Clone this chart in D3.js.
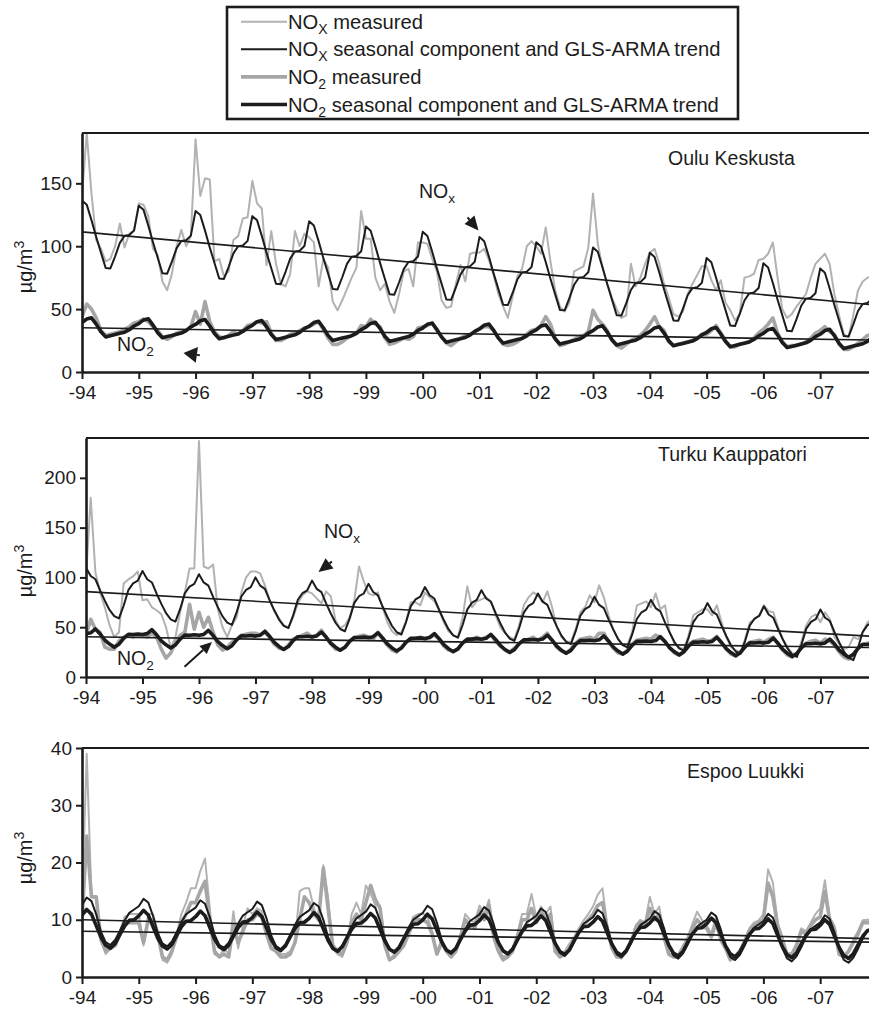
<!DOCTYPE html>
<html><head><meta charset="utf-8">
<script src="https://cdn.jsdelivr.net/npm/d3@7"></script>
<style>
html,body{margin:0;padding:0;background:#fff;}
svg{display:block;font-family:"Liberation Sans",Arial,Helvetica,sans-serif;}
</style></head><body>
<svg id="chart" width="869" height="1010"></svg>
<script>
// ---------------- data ----------------
// Monthly means, January 1994 onwards (one row per year).
const startYear = 1994;
const endYear = 2007.86;
const yearTicks = d3.range(1994, 2008);
const tickLabels = ["-94","-95","-96","-97","-98","-99","-00","-01","-02","-03","-04","-05","-06","-07"];

// Oulu Keskusta
const ouluNOxMeasured = [
  140,190,142,105, 98, 88, 90,100,118, 99,110,112,
  134,133,124, 98, 93, 72, 65, 78,100,113,100,108,
  185,140,154,153, 88, 90, 76, 80,105,108,122,123,
  152,134,130, 85,112, 86, 70, 68, 78,112,100,110,
  107,103, 68, 90, 83, 56, 49, 57, 66, 75, 83,128,
  106,106, 75, 65, 70, 56, 47, 62, 80, 82, 68,103,
  103,102, 90, 80, 57, 51, 52, 70, 85, 72, 94, 95,
   95, 98, 89, 77, 62, 52, 43, 60, 76, 82,100,104,
  100, 94,115, 88, 65, 52, 48, 55, 80, 82, 84, 99,
  142,102, 83, 70, 59, 50, 43, 45, 86, 68, 75, 86,
   95, 98, 86, 70, 59, 46, 44, 48, 62, 70, 77, 84,
   84, 73, 65, 73, 55, 49, 41, 46, 75, 76, 78, 89,
   90, 94,103, 75, 50, 43, 46, 52, 57, 62, 75, 86,
   90, 94, 86, 62, 45, 30, 28, 45, 65, 72, 75, 76];
const ouluNO2Measured = [
  44,54,50,43,33,29,30,31,32,34,36,39,
  40,42,40,36,33,28,26,28,31,32,33,36,
  48,38,56,40,32,28,27,29,32,30,33,37,
  38,40,39,40,31,25,25,27,30,31,33,35,
  36,38,40,34,27,22,22,24,27,29,31,37,
  36,42,38,36,27,22,23,25,27,26,28,35,
  36,37,39,33,28,23,21,24,27,29,30,32,
  34,36,36,33,27,22,21,22,24,27,30,33,
  34,37,44,38,27,21,22,24,26,28,29,32,
  49,42,38,33,25,21,19,22,25,27,29,33,
  38,44,36,33,24,21,22,23,24,25,27,30,
  30,33,37,31,25,20,20,22,23,24,27,31,
  34,38,43,31,24,20,21,21,22,24,27,31,
  33,36,32,30,22,18,18,20,23,26,29,30];
const ouluNOxSeasonal = [25, 22, 10, -3, -15, -27, -27, -17, -6, 0, 1, 5];
const ouluNO2Seasonal = [4, 7, 8, 3, -3, -7, -6, -5, -4, -3, -1, 2];
const ouluNOxTrend = [111.4, 53.7];
const ouluNO2Trend = [35.2, 25.4];

// Turku Kauppatori
const turkuNOxMeasured = [
  100,180,105, 85, 70, 52, 40, 45, 94, 98,101,106,
   77, 78, 70, 67, 63, 50, 29, 40, 65, 85,109,109,
  237,111,109,113, 68, 50, 40, 52, 60, 85,100,106,
  106,104, 92, 77, 66, 59, 52, 50, 60, 74, 82, 86,
   84, 79, 74, 86, 81, 57, 49, 52, 60, 77,111, 96,
   84, 82, 85, 70, 55, 46, 42, 45, 56, 75, 75, 72,
   85, 80, 76, 67, 55, 46, 42, 40, 60, 91, 70, 76,
   78, 80, 76, 62, 50, 44, 40, 38, 52, 72, 80, 85,
   82, 75, 86, 70, 50, 40, 36, 35, 48, 65, 70, 82,
   75, 92, 80, 62, 48, 38, 33, 32, 45, 72, 74, 76,
   70, 84, 68, 72, 45, 33, 30, 28, 42, 62, 65, 68,
   68, 62, 72, 55, 40, 30, 27, 25, 38, 55, 58, 62,
   72, 66, 65, 50, 38, 30, 24, 22, 36, 52, 60, 63,
   55, 65, 58, 40, 33, 28, 30, 40, 38, 45, 55, 58];
const turkuNO2Measured = [
  42,58,48,45,30,28,28,36,40,42,40,42,
  42,40,44,40,28,19,24,35,42,45,73,48,
  65,50,60,45,32,27,30,35,38,42,43,44,
  44,42,45,40,33,29,28,32,38,40,42,44,
  40,42,47,40,33,28,27,30,36,39,41,42,
  40,38,45,38,32,27,25,30,35,38,39,40,
  38,40,42,38,31,27,26,28,34,37,38,40,
  38,40,42,36,31,27,25,29,33,37,38,40,
  37,40,44,37,30,26,24,28,34,38,39,40,
  38,44,44,35,29,24,23,27,33,37,38,39,
  38,42,40,36,29,24,22,26,33,36,37,38,
  36,37,41,34,28,23,21,25,31,35,36,37,
  35,38,40,33,27,22,20,24,30,34,36,37,
  34,38,36,32,25,20,18,22,29,33,34,35];
const turkuNOxSeasonal = [24, 16, 13, 2, -8, -17, -23, -25, -12, 4, 11, 14];
const turkuNO2Seasonal = [3, 4, 8, 3, -3, -7, -10, -7, -1, 3, 3, 3.5];
const turkuNOxTrend = [85.7, 41];
const turkuNO2Trend = [40.4, 29.6];

// Espoo Luukki
const espooNOxMeasured = [
  13,39,14,14,7,4,5,6,8,10.5,11,11,
  11,5.5,11,11,8,3,2.5,4,7.5,11,13,15.5,
  15.5,18.5,20.7,12,4,3.5,5,4,11.5,5,9,12,
  11,12,11.5,8,5,5,4,4,4.5,6,15,15.5,
  15.5,12,10,19.5,14,5,4,3.5,6,11,13,11,
  16,14.5,12.5,12.5,6,3,4,5,6,8,10.5,11,
  11.1,10.5,8,4.5,6.5,5,3.5,5,7.5,11,10,9.5,
  12.5,11,13.5,8,5,3.5,4,5,7.5,11,11,14.5,
  10.5,12.3,11,12.3,5,4,4.5,5.8,7,8.5,9.9,11,
  12.3,14.4,15.5,9,5.2,3.5,3.2,4.5,6,9,10,9.5,
  14,11,12.3,7.5,4.1,3.8,4,5.5,7,9.3,11.4,10,
  9,7.6,10.5,7,5.5,3,3.5,4.5,6.5,8.5,9.5,9.9,
  11,18.8,16.5,9.5,7,4.1,4,6,8.5,8,9.5,11,
  12,16.9,10.5,9,4.1,3.5,4.5,6.5,8,9.9,10,10];
const espooNO2Measured = [
  10,24.6,14,14,6.5,4.5,5,5.5,7.5,9.5,9.5,9.5,
  9.5,6,10,10,7.5,3.5,3,4.5,7,9.5,11,13,
  13,15,16.7,10,4.5,3.5,4,3.5,9,6,8,10,
  10,11,10.5,7.5,5,4.5,3.5,3.5,4,6,10,14,
  13,11,10,19,12,5.5,4.5,4,6,9.5,11,10,
  13,16,13.5,12,5.5,3,3.5,4.5,5.5,7.5,9.5,10,
  10,9.5,7.5,4,6,4.5,3.5,4.5,7,10,9,8.5,
  11.5,10,12.5,7,4.5,3,3.5,4.5,7,10,10,12,
  9.5,11.5,10,11,4.5,3.5,4,5,6.5,8,9,10,
  11,12.5,13,8.5,5,3.5,3.5,4.5,6,8.5,9.5,9,
  12,10,11,7,4,3.5,3.5,5,6.5,8.5,10,9,
  8.5,7,9.5,6.5,5,3,3.5,4.5,6,8,9,9.5,
  10,16.4,14,9,6.5,4,4,5.5,8,7.5,9,10,
  10.5,15,10,8.5,4,3.5,4.5,6,7.5,9.5,9.5,9.5];
const espooNOxSeasonal = [2.6, 3.9, 3.3, 1.0, -2.0, -3.8, -4.3, -3.4, -1.8, 0, 1.4, 2.0];
const espooNO2Seasonal = [2.8, 3.8, 3.0, 1.0, -1.0, -2.4, -2.9, -2.1, -0.5, 1.0, 2.0, 2.1];
const espooNOxTrend = [10, 6.7];
const espooNO2Trend = [8, 6.1];

const legendLabels = [
  ["X", " measured"],
  ["X", " seasonal component and GLS-ARMA trend"],
  ["2", " measured"],
  ["2", " seasonal component and GLS-ARMA trend"]
];

// ---------------- helpers ----------------
const monthTime = i => startYear + i / 12;
const trendAt = (tr, t) => tr[0] + (tr[1] - tr[0]) * (t - startYear) / (endYear - startYear);
const measuredSeries = arr => arr.map((v, i) => ({t: monthTime(i), v}));
// seasonal component added to the linear GLS-ARMA trend
const fittedSeries = (seasonal, tr, n) => d3.range(n).map(i => {
  const t = monthTime(i);
  return {t, v: trendAt(tr, t) + seasonal[i % 12]};
});
const trendSeries = tr => [startYear, endYear].map(t => ({t, v: trendAt(tr, t)}));

const INK = "#1c1c1c";
const styles = {
  noxMeas: {stroke: "#b2b2b2", width: 2},
  no2Meas: {stroke: "#a6a6a6", width: 3.6},
  noxFit:  {stroke: INK, width: 2},
  no2Fit:  {stroke: INK, width: 3.6},
  trend:   {stroke: INK, width: 1.6}
};

const panels = [
  {name: "Oulu Keskusta", left: 82, top: 133, bottom: 372, ymax: 190, yticks: [0, 50, 100, 150],
   noxM: ouluNOxMeasured, no2M: ouluNO2Measured, noxS: ouluNOxSeasonal, no2S: ouluNO2Seasonal,
   noxT: ouluNOxTrend, no2T: ouluNO2Trend,
   title: [668, 165], ylab: 267,
   labels: [{kind: "x", x: 419, y: 198}, {kind: "2", x: 117, y: 351}],
   arrows: [{tip: [478.5, 230.5], ang: 50, len: 14, hw: 6.5, tail: 3},
            {tip: [183.5, 353], ang: 188, len: 13.5, hw: 8, tail: 3}]},
  {name: "Turku Kauppatori", left: 86, top: 438, bottom: 677, ymax: 240, yticks: [0, 50, 100, 150, 200],
   noxM: turkuNOxMeasured, no2M: turkuNO2Measured, noxS: turkuNOxSeasonal, no2S: turkuNO2Seasonal,
   noxT: turkuNOxTrend, no2T: turkuNO2Trend,
   title: [658, 461], ylab: 571,
   labels: [{kind: "x", x: 324, y: 538}, {kind: "2", x: 117, y: 665}],
   arrows: [{tip: [318.5, 572], ang: 142, len: 14, hw: 6.5, tail: 3},
            {tip: [212, 642], ang: -42, len: 12, hw: 5.5, tail: 25}]},
  {name: "Espoo Luukki", left: 82, top: 748, bottom: 977, ymax: 40, yticks: [0, 10, 20, 30, 40],
   noxM: espooNOxMeasured, no2M: espooNO2Measured, noxS: espooNOxSeasonal, no2S: espooNO2Seasonal,
   noxT: espooNOxTrend, no2T: espooNO2Trend,
   title: [687, 778], ylab: 858,
   labels: [], arrows: []}
];
const RIGHT = 870;

const svg = d3.select("#chart");

// ---------------- legend ----------------
const lg = svg.append("g");
lg.append("rect").attr("x", 227).attr("y", 7).attr("width", 511).attr("height", 112)
  .attr("fill", "#fff").attr("stroke", INK).attr("stroke-width", 2.6);
const legendStyles = [styles.noxMeas, styles.noxFit, styles.no2Meas, styles.no2Fit];
legendLabels.forEach((lab, i) => {
  const cy = 21.7 + i * 27.6;
  lg.append("line").attr("x1", 241).attr("x2", 287).attr("y1", cy).attr("y2", cy)
    .attr("stroke", legendStyles[i].stroke).attr("stroke-width", legendStyles[i].width);
  const tx = lg.append("text").attr("x", 288).attr("y", cy + 7)
    .attr("font-size", 20.2).attr("fill", INK);
  tx.append("tspan").text("NO");
  tx.append("tspan").attr("font-size", 14).attr("dy", 5).text(lab[0]);
  tx.append("tspan").attr("dy", -5).text(lab[1]);
});

// ---------------- panels ----------------
panels.forEach((p, pi) => {
  const x = d3.scaleLinear().domain([startYear, endYear]).range([p.left, RIGHT - 1]);
  const y = d3.scaleLinear().domain([0, p.ymax]).range([p.bottom, p.top]);
  const g = svg.append("g");

  const clipId = "clip" + pi;
  svg.append("clipPath").attr("id", clipId).append("rect")
    .attr("x", p.left).attr("y", p.top - 1).attr("width", RIGHT - p.left).attr("height", p.bottom - p.top + 1);

  const line = d3.line().x(d => x(d.t)).y(d => y(d.v)).curve(d3.curveLinear);
  const plot = g.append("g").attr("clip-path", `url(#${clipId})`);
  const n = p.noxM.length;
  const draw = (data, st) => plot.append("path").datum(data).attr("d", line)
    .attr("fill", "none").attr("stroke", st.stroke).attr("stroke-width", st.width)
    .attr("stroke-linejoin", "round").attr("stroke-linecap", "round");

  draw(measuredSeries(p.noxM), styles.noxMeas);
  draw(measuredSeries(p.no2M), styles.no2Meas);
  draw(trendSeries(p.noxT), styles.trend);
  draw(trendSeries(p.no2T), styles.trend);
  draw(fittedSeries(p.noxS, p.noxT, n), styles.noxFit);
  draw(fittedSeries(p.no2S, p.no2T, n), styles.no2Fit);

  // frame: top border
  g.append("line").attr("x1", p.left).attr("x2", RIGHT).attr("y1", p.top).attr("y2", p.top)
    .attr("stroke", INK).attr("stroke-width", 2.2);

  // x axis
  const xa = g.append("g").attr("transform", `translate(0,${p.bottom})`)
    .call(d3.axisBottom(x).tickValues(yearTicks).tickFormat((d, i) => tickLabels[i])
      .tickSize(7).tickSizeOuter(0).tickPadding(7));
  xa.select(".domain").attr("stroke", INK).attr("stroke-width", 2.6);
  xa.selectAll(".tick line").attr("stroke", INK).attr("stroke-width", 2);
  xa.selectAll(".tick text").attr("font-size", 19).attr("fill", INK)
    .attr("font-family", '"Liberation Sans",Arial,sans-serif');

  // y axis
  const ya = g.append("g").attr("transform", `translate(${p.left},0)`)
    .call(d3.axisLeft(y).tickValues(p.yticks).tickSize(6).tickSizeOuter(0).tickPadding(4));
  ya.select(".domain").attr("stroke", INK).attr("stroke-width", 2.6);
  ya.selectAll(".tick line").attr("stroke", INK).attr("stroke-width", 2);
  ya.selectAll(".tick text").attr("font-size", 19).attr("fill", INK)
    .attr("font-family", '"Liberation Sans",Arial,sans-serif');

  // y label
  const yl = g.append("text").attr("transform", `translate(31.5,${p.ylab}) rotate(-90)`)
    .attr("text-anchor", "middle").attr("font-size", 20).attr("fill", INK);
  yl.append("tspan").text("µg/m");
  yl.append("tspan").attr("font-size", 14).attr("dy", -8).text("3");

  // station name
  g.append("text").attr("x", p.title[0]).attr("y", p.title[1]).attr("font-size", 19.5)
    .attr("fill", INK).text(p.name);

  // series annotations
  p.labels.forEach(l => {
    const t = g.append("text").attr("x", l.x).attr("y", l.y).attr("font-size", 19.5).attr("fill", INK);
    t.append("tspan").text("NO");
    t.append("tspan").attr("font-size", 13.5).attr("dy", 5).text(l.kind);
  });
  p.arrows.forEach(a => {
    const r = a.ang * Math.PI / 180, dx = Math.cos(r), dy = Math.sin(r);
    const bx = a.tip[0] - dx * a.len, by = a.tip[1] - dy * a.len;
    g.append("line").attr("x1", bx - dx * a.tail).attr("y1", by - dy * a.tail)
      .attr("x2", bx).attr("y2", by).attr("stroke", INK).attr("stroke-width", 2);
    g.append("path").attr("fill", INK)
      .attr("d", `M${a.tip[0]},${a.tip[1]}L${bx - dy * a.hw},${by + dx * a.hw}L${bx + dy * a.hw},${by - dx * a.hw}Z`);
  });
});
</script>
</body></html>
